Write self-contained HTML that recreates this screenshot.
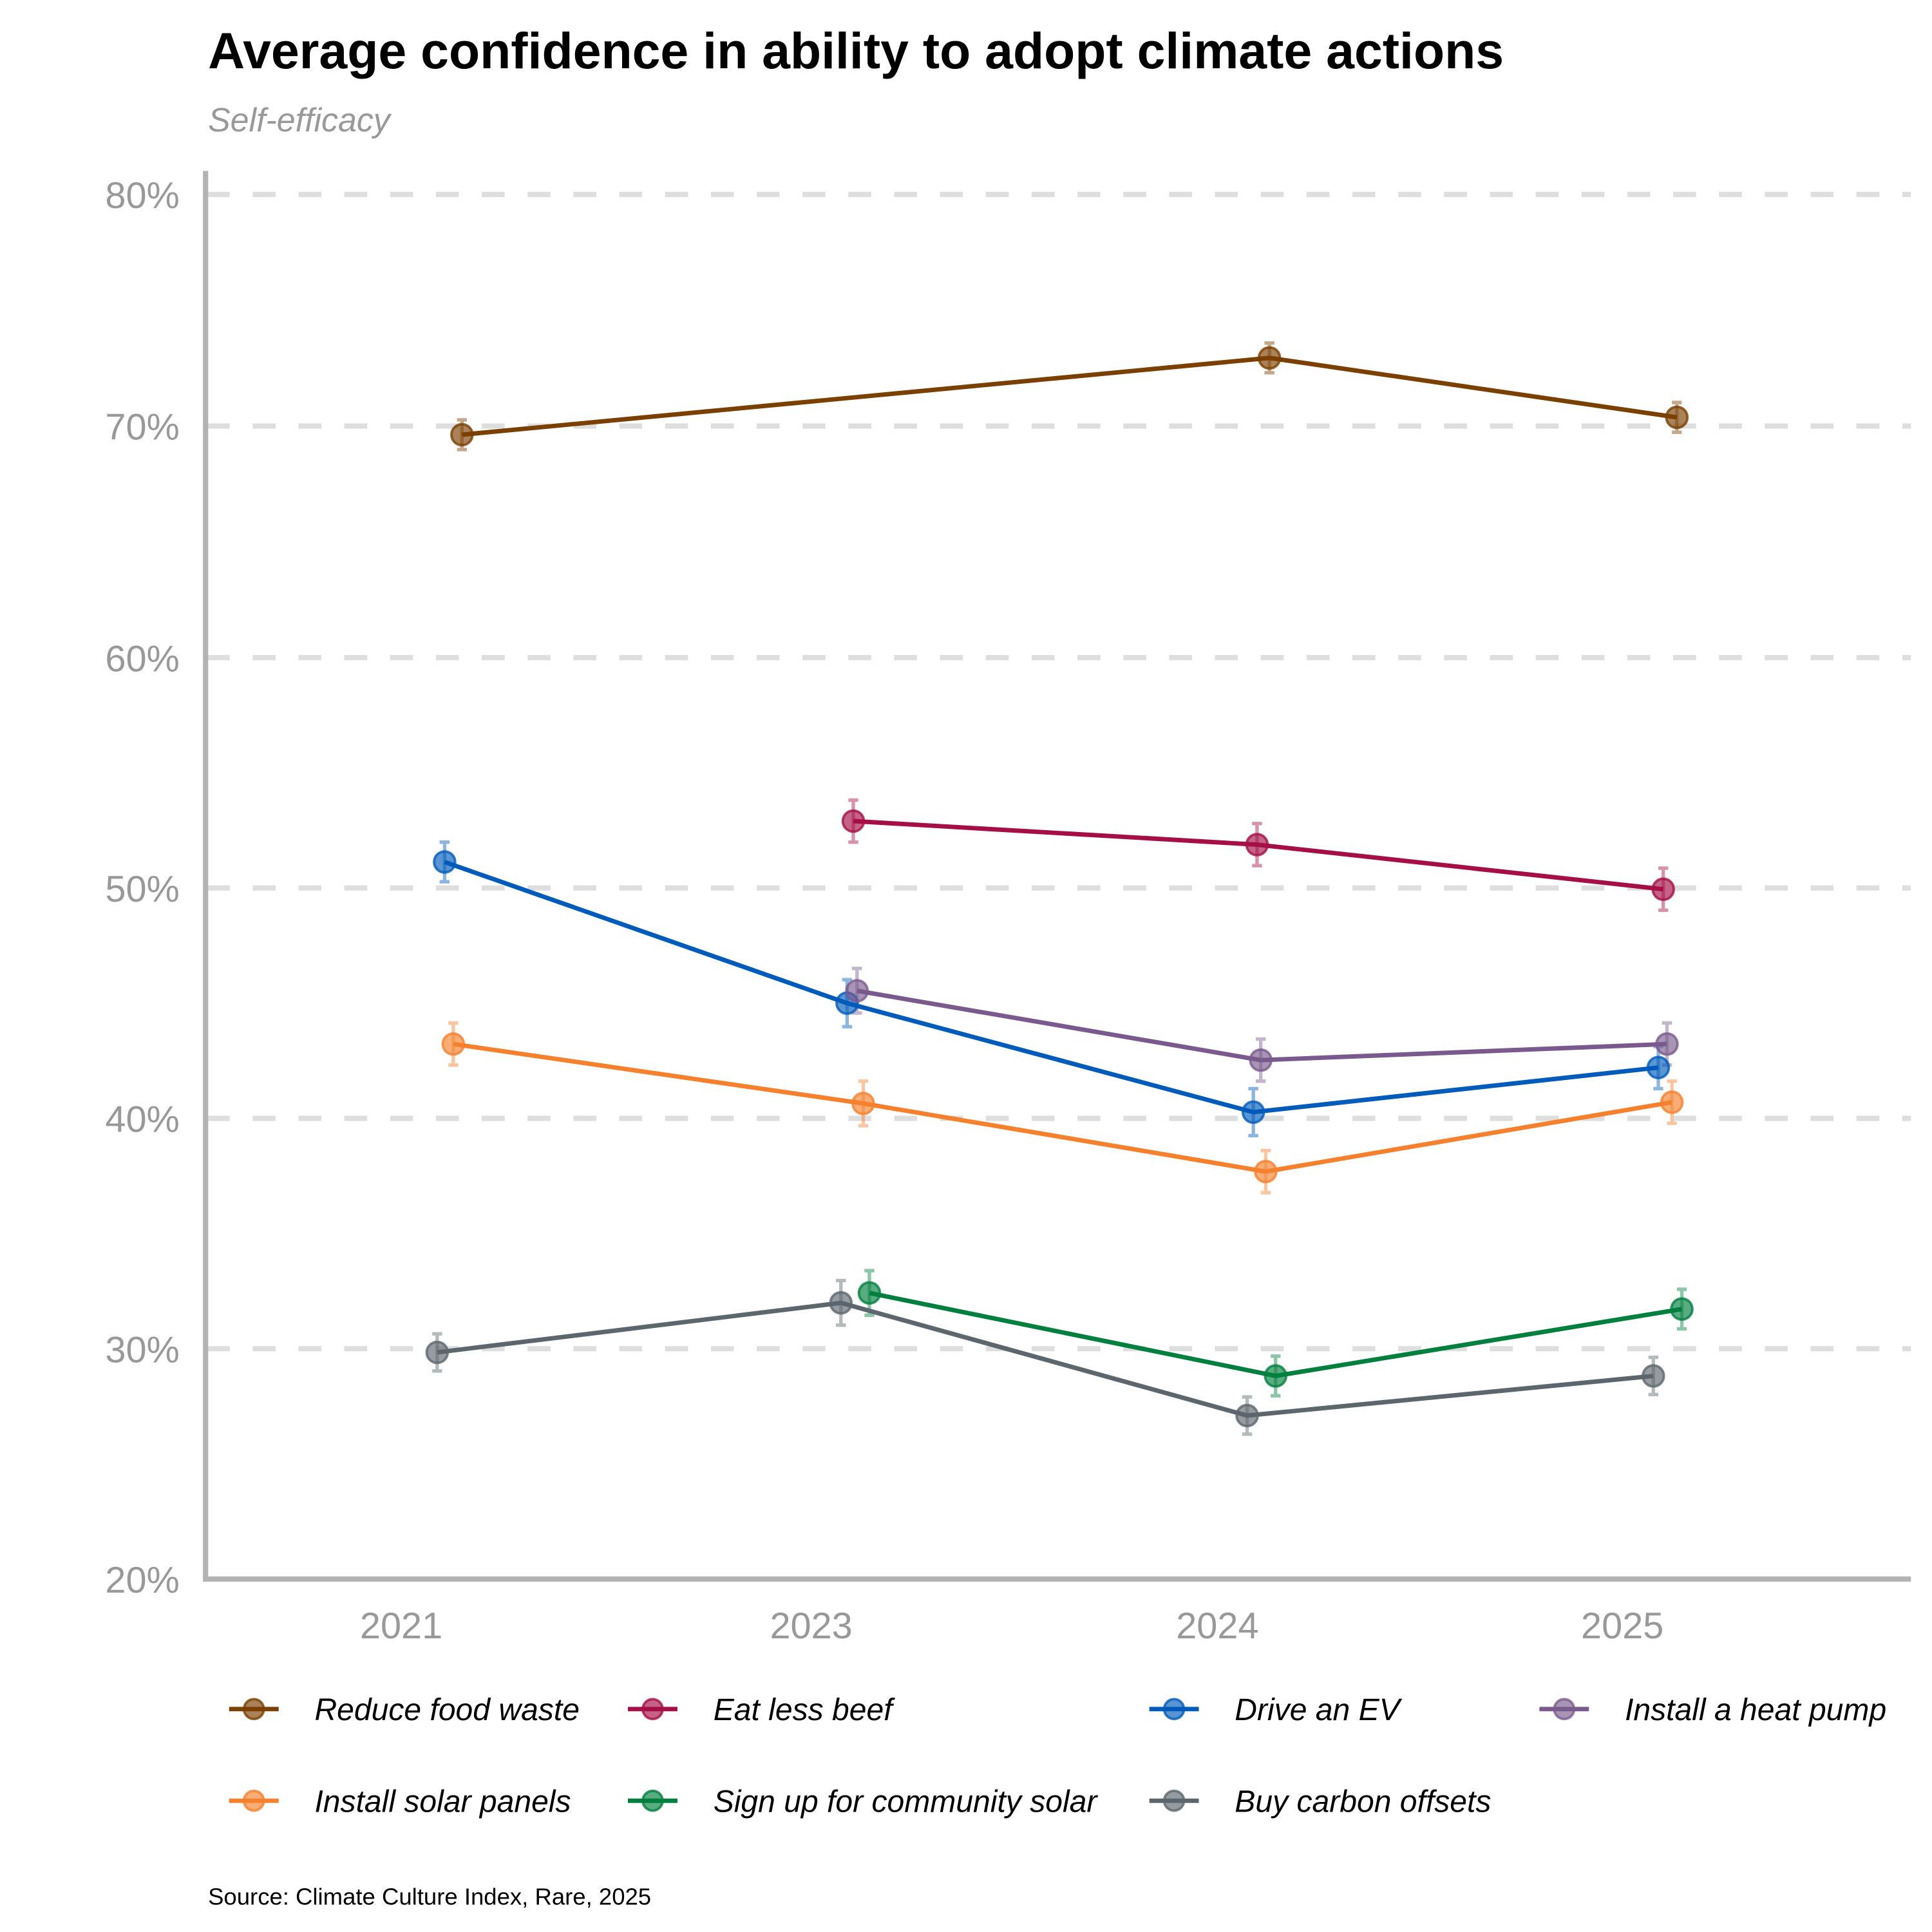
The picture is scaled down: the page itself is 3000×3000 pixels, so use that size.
<!DOCTYPE html>
<html><head><meta charset="utf-8"><style>
html,body{margin:0;padding:0;background:#fff}
svg{display:block}
text{font-family:"Liberation Sans",Arial,sans-serif}
</style></head><body>
<svg width="3000" height="3000" viewBox="0 0 1560 1560" xmlns="http://www.w3.org/2000/svg">
<rect width="1560" height="1560" fill="#fff"/>
<text x="168" y="55" font-size="41" font-weight="bold" fill="#000">Average confidence in ability to adopt climate actions</text>
<text x="168" y="106" font-size="27" font-style="italic" fill="#999">Self-efficacy</text>
<g stroke="#dedede" stroke-width="4.2" stroke-dasharray="18.5 18.5">
<line x1="167" y1="157" x2="1543" y2="157"/>
<line x1="167" y1="344" x2="1543" y2="344"/>
<line x1="167" y1="531" x2="1543" y2="531"/>
<line x1="167" y1="717" x2="1543" y2="717"/>
<line x1="167" y1="903" x2="1543" y2="903"/>
<line x1="167" y1="1089" x2="1543" y2="1089"/>
</g>
<line x1="166" y1="138" x2="166" y2="1277" stroke="#b3b3b3" stroke-width="4.2"/>
<line x1="164" y1="1275" x2="1543" y2="1275" stroke="#b3b3b3" stroke-width="4.2"/>
<g font-size="30" fill="#999" text-anchor="end">
<text x="145" y="168">80%</text><text x="145" y="355">70%</text><text x="145" y="542">60%</text>
<text x="145" y="728">50%</text><text x="145" y="914">40%</text><text x="145" y="1100">30%</text><text x="145" y="1286">20%</text>
</g>
<g font-size="30" fill="#999" text-anchor="middle">
<text x="324" y="1323">2021</text><text x="655" y="1323">2023</text><text x="983" y="1323">2024</text><text x="1310" y="1323">2025</text>
</g>

<!-- errorbars -->
<g stroke-opacity="0.45" stroke-width="2.8">
<g stroke="#7B3F00">
<path d="M373 339V363M369 339H377M369 363H377 M1025 277V301M1021 277H1029M1021 301H1029 M1354 325V349M1350 325H1358M1350 349H1358"/>
</g>
<g stroke="#A50F45">
<path d="M689 646V680M685 646H693M685 680H693 M1015 665V699M1011 665H1019M1011 699H1019 M1343 701V735M1339 701H1347M1339 735H1347"/>
</g>
<g stroke="#005BBB">
<path d="M359 680V712M355 680H363M355 712H363 M684 791V829M680 791H688M680 829H688 M1012 879V917M1008 879H1016M1008 917H1016 M1339 845V879M1335 845H1343M1335 879H1343"/>
</g>
<g stroke="#7A5A8E">
<path d="M692 782V818M688 782H696M688 818H696 M1018 839V873M1014 839H1022M1014 873H1022 M1346 826V860M1342 826H1350M1342 860H1350"/>
</g>
<g stroke="#F5812E">
<path d="M366 826V860M362 826H370M362 860H370 M697 873V909M693 873H701M693 909H701 M1022 929V963M1018 929H1026M1018 963H1026 M1350 873V907M1346 873H1354M1346 907H1354"/>
</g>
<g stroke="#007F3E">
<path d="M702 1026V1062M698 1026H706M698 1062H706 M1030 1095V1127M1026 1095H1034M1026 1127H1034 M1358 1041V1073M1354 1041H1362M1354 1073H1362"/>
</g>
<g stroke="#5C666D">
<path d="M353 1077V1107M349 1077H357M349 1107H357 M679 1034V1070M675 1034H683M675 1070H683 M1007 1128V1158M1003 1128H1011M1003 1158H1011 M1335 1096V1126M1331 1096H1339M1331 1126H1339"/>
</g>
</g>

<!-- lines -->
<g fill="none" stroke-width="3.6">
<polyline stroke="#7B3F00" points="373,351 1025,289 1354,337"/>
<polyline stroke="#A50F45" points="689,663 1015,682 1343,718"/>
<polyline stroke="#005BBB" points="359,696 684,810 1012,898 1339,862"/>
<polyline stroke="#7A5A8E" points="692,800 1018,856 1346,843"/>
<polyline stroke="#F5812E" points="366,843 697,891 1022,946 1350,890"/>
<polyline stroke="#007F3E" points="702,1044 1030,1111 1358,1057"/>
<polyline stroke="#5C666D" points="353,1092 679,1052 1007,1143 1335,1111"/>
</g>

<!-- markers -->
<g fill-opacity="0.65" stroke-opacity="0.8" stroke-width="2">
<g fill="#7B3F00" stroke="#7B3F00"><circle cx="373" cy="351" r="8.5"/><circle cx="1025" cy="289" r="8.5"/><circle cx="1354" cy="337" r="8.5"/></g>
<g fill="#A50F45" stroke="#A50F45"><circle cx="689" cy="663" r="8.5"/><circle cx="1015" cy="682" r="8.5"/><circle cx="1343" cy="718" r="8.5"/></g>
<g fill="#005BBB" stroke="#005BBB"><circle cx="359" cy="696" r="8.5"/><circle cx="684" cy="810" r="8.5"/><circle cx="1012" cy="898" r="8.5"/><circle cx="1339" cy="862" r="8.5"/></g>
<g fill="#7A5A8E" stroke="#7A5A8E"><circle cx="692" cy="800" r="8.5"/><circle cx="1018" cy="856" r="8.5"/><circle cx="1346" cy="843" r="8.5"/></g>
<g fill="#F5812E" stroke="#F5812E"><circle cx="366" cy="843" r="8.5"/><circle cx="697" cy="891" r="8.5"/><circle cx="1022" cy="946" r="8.5"/><circle cx="1350" cy="890" r="8.5"/></g>
<g fill="#007F3E" stroke="#007F3E"><circle cx="702" cy="1044" r="8.5"/><circle cx="1030" cy="1111" r="8.5"/><circle cx="1358" cy="1057" r="8.5"/></g>
<g fill="#5C666D" stroke="#5C666D"><circle cx="353" cy="1092" r="8.5"/><circle cx="679" cy="1052" r="8.5"/><circle cx="1007" cy="1143" r="8.5"/><circle cx="1335" cy="1111" r="8.5"/></g>
</g>

<!-- legend keys -->
<g stroke-width="3.6">
<line x1="185" y1="1380" x2="225" y2="1380" stroke="#7B3F00"/>
<line x1="507" y1="1380" x2="547" y2="1380" stroke="#A50F45"/>
<line x1="928" y1="1380" x2="968" y2="1380" stroke="#005BBB"/>
<line x1="1243" y1="1380" x2="1283" y2="1380" stroke="#7A5A8E"/>
<line x1="185" y1="1454" x2="225" y2="1454" stroke="#F5812E"/>
<line x1="507" y1="1454" x2="547" y2="1454" stroke="#007F3E"/>
<line x1="928" y1="1454" x2="968" y2="1454" stroke="#5C666D"/>
</g>
<g fill-opacity="0.65" stroke-opacity="0.8" stroke-width="2">
<circle cx="205" cy="1380" r="8" fill="#7B3F00" stroke="#7B3F00"/>
<circle cx="527" cy="1380" r="8" fill="#A50F45" stroke="#A50F45"/>
<circle cx="948" cy="1380" r="8" fill="#005BBB" stroke="#005BBB"/>
<circle cx="1263" cy="1380" r="8" fill="#7A5A8E" stroke="#7A5A8E"/>
<circle cx="205" cy="1454" r="8" fill="#F5812E" stroke="#F5812E"/>
<circle cx="527" cy="1454" r="8" fill="#007F3E" stroke="#007F3E"/>
<circle cx="948" cy="1454" r="8" fill="#5C666D" stroke="#5C666D"/>
</g>
<g font-size="25" font-style="italic" fill="#000">
<text x="254" y="1389">Reduce food waste</text>
<text x="576" y="1389">Eat less beef</text>
<text x="997" y="1389">Drive an EV</text>
<text x="1312" y="1389">Install a heat pump</text>
<text x="254" y="1463">Install solar panels</text>
<text x="576" y="1463">Sign up for community solar</text>
<text x="997" y="1463">Buy carbon offsets</text>
</g>
<text x="168" y="1538" font-size="19" fill="#000">Source: Climate Culture Index, Rare, 2025</text>
</svg>
</body></html>
